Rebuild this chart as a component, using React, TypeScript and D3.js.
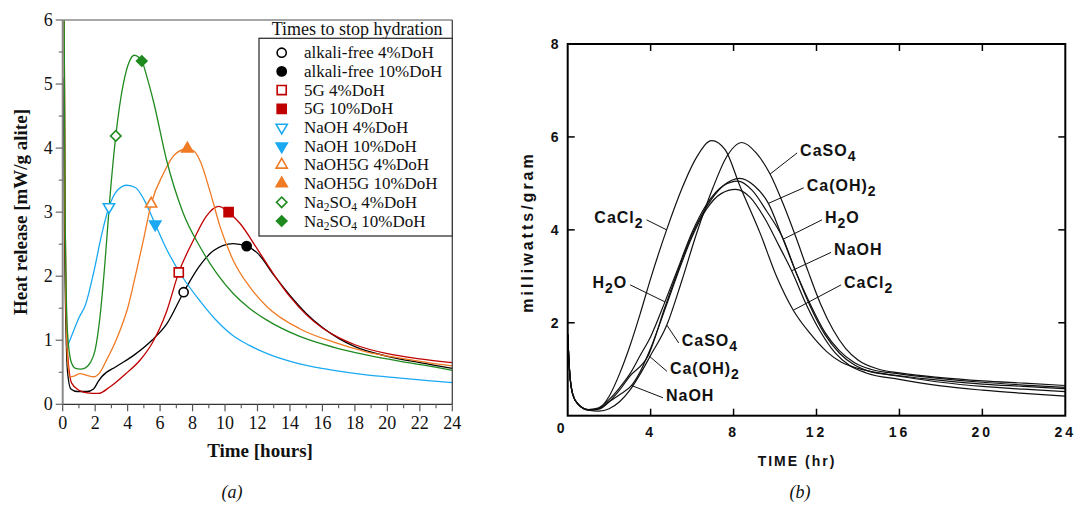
import React from 'react';
import * as d3 from 'd3';

// ---------- Panel (a) data: heat release [mW/g alite] vs time [h] ----------
const alkaliFree: [number, number][] = [
  [0.03, 5.1], [0.12, 2.5], [0.3, 0.5], [0.5, 0.24], [0.9, 0.2], [1.5, 0.2], [1.9, 0.24], [2.2, 0.36],
  [2.4, 0.43], [3.3, 0.59], [4.35, 0.76], [5.5, 1.0], [6.4, 1.25], [7.45, 1.75], [8.4, 2.15], [9.3, 2.4],
  [10.5, 2.51], [11.33, 2.47], [12, 2.36], [13, 2.02], [14, 1.7], [15, 1.42], [16, 1.2], [17, 1.03],
  [18, 0.9], [20, 0.75], [22, 0.65], [24, 0.56],
];
const fiveG: [number, number][] = [
  [0.03, 9], [0.15, 3], [0.3, 0.8], [0.55, 0.33], [1.0, 0.22], [1.5, 0.18], [2.2, 0.17], [2.9, 0.27],
  [3.9, 0.48], [4.8, 0.7], [5.5, 0.95], [6.4, 1.45], [7.15, 2.06], [8.05, 2.56], [8.8, 2.92], [9.6, 3.09],
  [10.22, 3.0], [10.9, 2.83], [12, 2.42], [13, 2.03], [14, 1.68], [15, 1.4], [16, 1.19], [17, 1.04],
  [18, 0.93], [20, 0.79], [22, 0.71], [24, 0.65],
];
const naoh: [number, number][] = [
  [0.25, 0.88], [0.6, 1.1], [1.0, 1.35], [1.4, 1.55], [1.9, 2.05], [2.4, 2.65], [2.85, 3.08], [3.4, 3.35],
  [3.95, 3.42], [4.5, 3.38], [5.0, 3.2], [5.7, 2.81], [6.4, 2.42], [7.4, 1.98], [8.5, 1.6], [9.5, 1.3],
  [10.5, 1.07], [11.5, 0.92], [12.6, 0.79], [14.6, 0.63], [16.7, 0.53], [18.7, 0.46], [20.8, 0.41],
  [22.5, 0.37], [24, 0.34],
];
const naoh5g: [number, number][] = [
  [0.03, 9], [0.15, 2.5], [0.3, 0.7], [0.45, 0.43], [0.7, 0.44], [1.07, 0.48], [1.5, 0.45], [1.9, 0.43],
  [2.3, 0.5], [2.7, 0.69], [3.2, 0.95], [3.6, 1.2], [4.0, 1.5], [4.4, 1.92], [5.0, 2.6], [5.45, 3.13],
  [6.2, 3.6], [6.9, 3.9], [7.68, 3.99], [8.1, 3.95], [8.5, 3.78], [9.1, 3.3], [9.7, 2.77], [10.5, 2.25],
  [11.5, 1.84], [12.6, 1.52], [14.6, 1.18], [16.7, 0.97], [18.7, 0.82], [20.8, 0.72], [22.5, 0.65], [24, 0.6],
];
const na2so4: [number, number][] = [
  [0.03, 9], [0.15, 3], [0.3, 1.1], [0.55, 0.64], [0.8, 0.56], [1.07, 0.55], [1.4, 0.57], [1.7, 0.65],
  [2.0, 0.85], [2.3, 1.37], [2.6, 2.2], [2.9, 3.2], [3.27, 4.19], [3.74, 5.01], [4.1, 5.35], [4.4, 5.45],
  [4.87, 5.36], [5.2, 5.1], [5.6, 4.72], [6.4, 3.81], [7.4, 3.0], [8.5, 2.44], [9.5, 2.04], [10.5, 1.73],
  [11.5, 1.5], [12.6, 1.31], [14.6, 1.06], [16.7, 0.89], [18.7, 0.77], [20.8, 0.67], [22.5, 0.6], [24, 0.53],
];

const seriesA = [
  { name: 'alkali-free', color: '#000000', data: alkaliFree },
  { name: '5G', color: '#c00000', data: fiveG },
  { name: 'NaOH', color: '#1aa9f2', data: naoh },
  { name: 'NaOH5G', color: '#f07b24', data: naoh5g },
  { name: 'Na2SO4', color: '#1f8a1f', data: na2so4 },
];

// markers: times to stop hydration
const markerNames = ['alkali-free 4%DoH', 'alkali-free 10%DoH', '5G 4%DoH', '5G 10%DoH', 'NaOH 4%DoH',
  'NaOH 10%DoH', 'NaOH5G 4%DoH', 'NaOH5G 10%DoH', 'Na{2}SO{4} 4%DoH', 'Na{2}SO{4} 10%DoH'];
const markerShapes = ['circle', 'circle', 'square', 'square', 'down', 'down', 'up', 'up', 'diamond', 'diamond'];
const markerFilled = [false, true, false, true, false, true, false, true, false, true];
const markerColors = ['#000000', '#000000', '#c00000', '#c00000', '#1aa9f2', '#1aa9f2', '#f07b24', '#f07b24', '#1f8a1f', '#1f8a1f'];
const markerT = [7.45, 11.33, 7.15, 10.22, 2.85, 5.7, 5.45, 7.68, 3.27, 4.87];
const markerV = [1.75, 2.47, 2.06, 3.0, 3.08, 2.81, 3.13, 3.99, 4.19, 5.36];

const xTicksA = [0, 2, 4, 6, 8, 10, 12, 14, 16, 18, 20, 22, 24];
const xMinorA = [1, 3, 5, 7, 9, 11, 13, 15, 17, 19, 21, 23];
const yTicksA = [0, 1, 2, 3, 4, 5, 6];
const yMinorA = [0.5, 1.5, 2.5, 3.5, 4.5, 5.5];

// ---------- Panel (b) data: milliwatts/gram vs time (hr) ----------
const caCl2: [number, number][] = [
  [0, 1.75], [0.1, 0.9], [0.25, 0.45], [0.5, 0.25], [1, 0.13], [1.5, 0.16], [2, 0.42], [2.5, 0.9],
  [3, 1.5], [3.5, 2.2], [4, 2.95], [4.77, 4.0], [5.5, 4.88], [6.2, 5.55], [6.95, 5.92], [7.6, 5.72],
  [8.3, 4.95], [9.28, 3.93], [10.08, 2.99], [10.88, 2.27], [11.69, 1.77], [12.49, 1.38], [13.2, 1.15],
  [14, 1.02], [15, 0.92], [16, 0.85], [18, 0.72], [20, 0.63], [22, 0.57], [24, 0.52],
];
const caSO4: [number, number][] = [
  [0, 1.75], [0.1, 0.9], [0.25, 0.45], [0.5, 0.25], [1, 0.12], [1.5, 0.1], [2, 0.15], [2.5, 0.3],
  [3, 0.55], [3.5, 0.9], [4, 1.3], [4.78, 1.95], [5.5, 2.9], [6.2, 3.9], [7, 4.9], [7.7, 5.6], [8.4, 5.88],
  [9.1, 5.65], [9.76, 5.2], [10.4, 4.55], [11, 3.85], [11.6, 3.1], [12.2, 2.4], [12.8, 1.85], [13.4, 1.45],
  [14, 1.2], [15, 1.0], [16, 0.92], [18, 0.82], [20, 0.75], [22, 0.7], [24, 0.65],
];
const caOH2: [number, number][] = [
  [0, 1.75], [0.1, 0.9], [0.25, 0.45], [0.5, 0.25], [1, 0.12], [1.5, 0.14], [2, 0.3], [2.5, 0.55],
  [3, 0.85], [3.89, 1.3], [4.7, 2.35], [5.3, 3.1], [6, 3.9], [6.7, 4.5], [7.5, 4.95], [8.3, 5.11],
  [9, 4.95], [9.68, 4.57], [10.3, 3.9], [11, 3.1], [11.7, 2.4], [12.4, 1.8], [13.1, 1.4], [13.8, 1.15],
  [14.6, 1.0], [16, 0.9], [18, 0.8], [20, 0.72], [22, 0.66], [24, 0.61],
];
const h2o: [number, number][] = [
  [0, 1.75], [0.1, 0.9], [0.25, 0.45], [0.5, 0.25], [1, 0.13], [1.5, 0.17], [2, 0.35], [2.5, 0.6],
  [3, 0.9], [3.5, 1.3], [4, 1.7], [4.69, 2.45], [5.3, 3.15], [6, 3.95], [6.7, 4.55], [7.5, 4.95],
  [8.2, 5.05], [8.9, 4.85], [9.6, 4.4], [10.4, 3.8], [11, 3.1], [11.7, 2.35], [12.4, 1.75], [13.1, 1.35],
  [13.8, 1.1], [14.6, 0.95], [16, 0.86], [18, 0.76], [20, 0.68], [22, 0.63], [24, 0.58],
];
const naohB: [number, number][] = [
  [0, 1.75], [0.1, 0.9], [0.25, 0.45], [0.5, 0.25], [1, 0.13], [1.5, 0.15], [2, 0.3], [2.5, 0.45],
  [3.08, 0.65], [3.5, 0.95], [4, 1.45], [4.7, 2.3], [5.3, 3.05], [6, 3.85], [6.7, 4.45], [7.4, 4.78],
  [8.1, 4.87], [8.8, 4.7], [9.5, 4.25], [10.2, 3.65], [10.8, 3.12], [11.5, 2.4], [12.2, 1.8], [12.9, 1.35],
  [13.6, 1.08], [14.4, 0.92], [16, 0.78], [18, 0.64], [20, 0.55], [22, 0.48], [24, 0.42],
];
const seriesB: Record<string, [number, number][]> = {
  CaCl2: caCl2, CaSO4: caSO4, 'Ca(OH)2': caOH2, H2O: h2o, NaOH: naohB,
};

// annotations: label text, curve, time on curve, label position (data units), anchor
const annotB = [
  { text: 'CaSO{4}', curve: 'CaSO4', t: 9.76, lt: 11.21, lv: 5.72, anchor: 'start' },
  { text: 'Ca(OH){2}', curve: 'Ca(OH)2', t: 9.68, lt: 11.53, lv: 4.97, anchor: 'start' },
  { text: 'H{2}O', curve: 'H2O', t: 10.4, lt: 12.41, lv: 4.28, anchor: 'start' },
  { text: 'NaOH', curve: 'NaOH', t: 10.8, lt: 12.85, lv: 3.58, anchor: 'start' },
  { text: 'CaCl{2}', curve: 'CaCl2', t: 10.88, lt: 13.33, lv: 2.88, anchor: 'start' },
  { text: 'CaCl{2}', curve: 'CaCl2', t: 4.77, lt: 3.66, lv: 4.28, anchor: 'end' },
  { text: 'H{2}O', curve: 'H2O', t: 4.69, lt: 2.87, lv: 2.88, anchor: 'end' },
  { text: 'CaSO{4}', curve: 'CaSO4', t: 4.78, lt: 5.5, lv: 1.63, anchor: 'start' },
  { text: 'Ca(OH){2}', curve: 'Ca(OH)2', t: 3.89, lt: 4.93, lv: 1.02, anchor: 'start' },
  { text: 'NaOH', curve: 'NaOH', t: 3.08, lt: 4.74, lv: 0.45, anchor: 'start' },
];

const xTicksB = [4, 8, 12, 16, 20, 24];
const yTicksB = [2, 4, 6, 8];

// ---------- helpers ----------
function interp(data: [number, number][], t: number) {
  for (let i = 1; i < data.length; i++) {
    if (data[i][0] >= t) {
      const [t0, v0] = data[i - 1];
      const [t1, v1] = data[i];
      return v0 + ((v1 - v0) * (t - t0)) / (t1 - t0);
    }
  }
  return data[data.length - 1][1];
}

function SubText({ text, x, y, size, subSize, subDy, ...rest }: any) {
  const parts: { s: string; sub: boolean }[] = [];
  const re = /\{(.*?)\}/g;
  let last = 0;
  let m;
  while ((m = re.exec(text))) {
    if (m.index > last) parts.push({ s: text.slice(last, m.index), sub: false });
    parts.push({ s: m[1], sub: true });
    last = m.index + m[0].length;
  }
  if (last < text.length) parts.push({ s: text.slice(last), sub: false });
  let inSub = false;
  return (
    <text x={x} y={y} fontSize={size} {...rest}>
      {parts.map((p, i) => {
        let dy = 0;
        if (p.sub && !inSub) dy = subDy;
        if (!p.sub && inSub) dy = -subDy;
        inSub = p.sub;
        return (
          <tspan key={i} dy={dy} fontSize={p.sub ? subSize : size}>
            {p.s}
          </tspan>
        );
      })}
    </text>
  );
}

function markerPath(shape: string) {
  if (shape === 'circle') return d3.symbol(d3.symbolCircle, 66)();
  if (shape === 'square') return d3.symbol(d3.symbolSquare, 82)();
  if (shape === 'diamond') return d3.symbol(d3.symbolSquare, 54)();
  return d3.symbol(d3.symbolTriangle, 54)();
}
function markerRot(shape: string) {
  if (shape === 'down') return 180;
  if (shape === 'diamond') return 45;
  return 0;
}

function Marker({ x, y, shape, filled, color }: any) {
  return (
    <path
      d={markerPath(shape) as string}
      transform={`translate(${x},${y}) rotate(${markerRot(shape)})`}
      fill={filled ? color : '#fff'}
      stroke={color}
      strokeWidth={1.6}
    />
  );
}

export default function App() {
  // panel (a) scales
  const xA = d3.scaleLinear().domain([0, 24]).range([62.7, 452.3]);
  const yA = d3.scaleLinear().domain([0, 6]).range([404.3, 20]);
  const lineA = d3
    .line<[number, number]>()
    .x((d) => xA(d[0]))
    .y((d) => yA(d[1]))
    .curve(d3.curveMonotoneX);

  // panel (b) scales
  const xB = d3.scaleLinear().domain([0, 24]).range([567.7, 1065.3]);
  const yB = d3.scaleLinear().domain([0, 8]).range([415.7, 44]);
  const lineB = d3
    .line<[number, number]>()
    .x((d) => xB(d[0]))
    .y((d) => yB(d[1]))
    .curve(d3.curveMonotoneX);

  const serif = "'Liberation Serif', 'Times New Roman', serif";
  const sans = "'Liberation Sans', Arial, sans-serif";

  const legX = 259, legY = 38.3, legW = 193.3, legH = 197.7;
  const rowY0 = 52.7, rowDy = 18.7;

  return (
    <svg width={1078} height={510} style={{ position: 'absolute', left: 0, top: 0, background: '#fff' }}>
      <defs>
        <clipPath id="clipA">
          <rect x={xA(0)} y={yA(6)} width={xA(24) - xA(0)} height={yA(0) - yA(6)} />
        </clipPath>
      </defs>
      <rect x={0} y={0} width={1078} height={510} fill="#fff" />

      {/* ===== Panel (a) ===== */}
      <g clipPath="url(#clipA)">
        {seriesA.map((s) => (
          <path key={s.name} d={lineA(s.data) as string} fill="none" stroke={s.color} strokeWidth={1.3} />
        ))}
      </g>
      {/* frame */}
      <line x1={xA(0)} x2={xA(24)} y1={yA(6)} y2={yA(6)} stroke="#8a8a8a" strokeWidth={1.5} />
      <line x1={xA(24)} x2={xA(24)} y1={yA(6)} y2={yA(0)} stroke="#444" strokeWidth={1.3} />
      <line x1={xA(0)} x2={xA(24)} y1={yA(0)} y2={yA(0)} stroke="#333" strokeWidth={1.3} />
      <line x1={xA(0)} x2={xA(0)} y1={yA(6)} y2={yA(0)} stroke="#8a8a8a" strokeWidth={2} />
      {xTicksA.map((t) => (
        <g key={'xa' + t}>
          <line x1={xA(t)} x2={xA(t)} y1={yA(0)} y2={yA(0) + 7} stroke="#555" strokeWidth={1.2} />
          <text x={xA(t)} y={yA(0) + 25} textAnchor="middle" fontFamily={serif} fontSize={18} fill="#111">
            {t}
          </text>
        </g>
      ))}
      {xMinorA.map((t) => (
        <line key={'xm' + t} x1={xA(t)} x2={xA(t)} y1={yA(0)} y2={yA(0) + 4} stroke="#555" strokeWidth={1.1} />
      ))}
      {yTicksA.map((v) => (
        <g key={'ya' + v}>
          <line x1={xA(0) - 7} x2={xA(0)} y1={yA(v)} y2={yA(v)} stroke="#666" strokeWidth={1.2} />
          <text x={xA(0) - 10} y={yA(v) + 6} textAnchor="end" fontFamily={serif} fontSize={18} fill="#111">
            {v}
          </text>
        </g>
      ))}
      {yMinorA.map((v) => (
        <line key={'ym' + v} x1={xA(0) - 4} x2={xA(0)} y1={yA(v)} y2={yA(v)} stroke="#666" strokeWidth={1.1} />
      ))}
      <text x={260} y={457} textAnchor="middle" fontFamily={serif} fontWeight="bold" fontSize={19} fill="#111">
        Time [hours]
      </text>
      <text
        transform="translate(27,212) rotate(-90)"
        textAnchor="middle"
        fontFamily={serif}
        fontWeight="bold"
        fontSize={19}
        fill="#111"
      >
        Heat release [mW/g alite]
      </text>
      {/* markers on curves */}
      {markerT.map((t, i) => (
        <Marker key={'mk' + i} x={xA(t)} y={yA(markerV[i])} shape={markerShapes[i]} filled={markerFilled[i]} color={markerColors[i]} />
      ))}
      {/* legend */}
      <text x={271.7} y={35} fontFamily={serif} fontSize={18} fill="#111">
        Times to stop hydration
      </text>
      <rect x={legX} y={legY} width={legW} height={legH} fill="#fff" stroke="#333" strokeWidth={1.3} />
      {markerNames.map((n, i) => (
        <g key={'lg' + i}>
          <Marker x={281.7} y={rowY0 + i * rowDy} shape={markerShapes[i]} filled={markerFilled[i]} color={markerColors[i]} />
          <SubText
            text={n}
            x={304}
            y={rowY0 + i * rowDy + 5.5}
            size={17}
            subSize={11.5}
            subDy={3}
            fontFamily={serif}
            fill="#111"
          />
        </g>
      ))}
      <text x={232} y={498} textAnchor="middle" fontFamily={serif} fontStyle="italic" fontSize={18} fill="#111">
        (a)
      </text>

      {/* ===== Panel (b) ===== */}
      {Object.entries(seriesB).map(([k, d]) => (
        <path key={k} d={lineB(d) as string} fill="none" stroke="#111" strokeWidth={1.2} />
      ))}
      <rect x={xB(0)} y={yB(8)} width={xB(24) - xB(0)} height={yB(0) - yB(8)} fill="none" stroke="#000" strokeWidth={2} />
      {xTicksB.map((t) => (
        <g key={'xb' + t}>
          {t < 24 && <line x1={xB(t)} x2={xB(t)} y1={yB(0)} y2={yB(0) - 7} stroke="#000" strokeWidth={1.5} />}
          {t < 24 && <line x1={xB(t)} x2={xB(t)} y1={yB(8)} y2={yB(8) + 7} stroke="#000" strokeWidth={1.5} />}
          <text x={xB(t)} y={yB(0) + 21} textAnchor="middle" fontFamily={sans} fontWeight="bold" fontSize={14} letterSpacing={3} fill="#111">
            {t}
          </text>
        </g>
      ))}
      {yTicksB.map((v) => (
        <g key={'yb' + v}>
          {v < 8 && <line x1={xB(0)} x2={xB(0) + 7} y1={yB(v)} y2={yB(v)} stroke="#000" strokeWidth={1.5} />}
          {v < 8 && <line x1={xB(24)} x2={xB(24) - 7} y1={yB(v)} y2={yB(v)} stroke="#000" strokeWidth={1.5} />}
          <text x={xB(0) - 13} y={yB(v) + 5} textAnchor="middle" fontFamily={sans} fontWeight="bold" fontSize={14} fill="#111">
            {v}
          </text>
        </g>
      ))}
      <text x={xB(0) - 7} y={yB(0) + 17} textAnchor="middle" fontFamily={sans} fontWeight="bold" fontSize={14} fill="#111">
        0
      </text>
      <text x={797} y={466} textAnchor="middle" fontFamily={sans} fontWeight="bold" fontSize={14} letterSpacing={2} fill="#111">
        TIME (hr)
      </text>
      <text
        transform="translate(533,232) rotate(-90)"
        textAnchor="middle"
        fontFamily={sans}
        fontWeight="bold"
        fontSize={16}
        letterSpacing={3}
        fill="#111"
      >
        milliwatts/gram
      </text>
      {annotB.map((a, i) => {
        const cx = xB(a.t);
        const cy = yB(interp(seriesB[a.curve], a.t));
        const lx = xB(a.lt);
        const ly = yB(a.lv);
        const ex = a.anchor === 'start' ? lx - 3 : lx + 3;
        return (
          <g key={'an' + i}>
            <line x1={cx} y1={cy} x2={ex} y2={ly + 3} stroke="#111" strokeWidth={1} />
            <SubText
              text={a.text}
              x={lx}
              y={ly + 6}
              size={16}
              subSize={14}
              subDy={5}
              textAnchor={a.anchor}
              fontFamily={sans}
              fontWeight="bold"
              letterSpacing={1}
              fill="#111"
            />
          </g>
        );
      })}
      <text x={800} y={498} textAnchor="middle" fontFamily={serif} fontStyle="italic" fontSize={18} fill="#111">
        (b)
      </text>
    </svg>
  );
}
